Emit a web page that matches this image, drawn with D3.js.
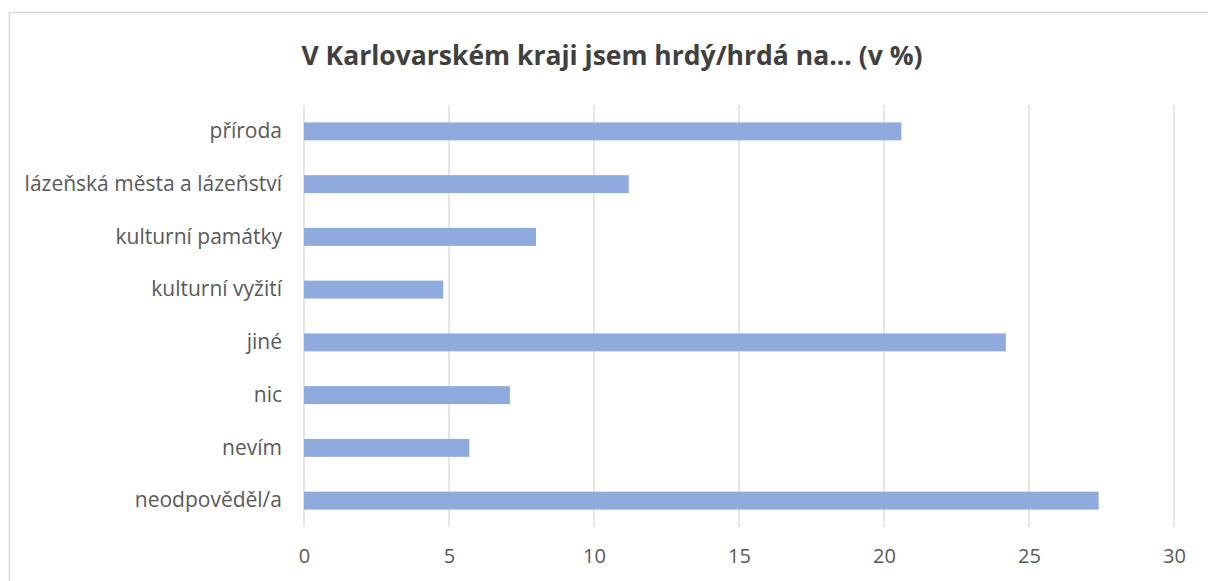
<!DOCTYPE html>
<html lang="cs">
<meta charset="utf-8">
<style>
body { margin: 0; background: #fff; }
text { font-family: "Open Sans", sans-serif; }
</style>
<body>
<script src="https://d3js.org/d3.v7.min.js"></script>
<div id="chart"></div>
<script>
// data
var categories = ["příroda", "lázeňská města a lázeňství", "kulturní památky ", "kulturní vyžití",
                  "jiné", "nic", "nevím", "neodpověděl/a"];
var values = [20.6, 11.2, 8.0, 4.8, 24.2, 7.1, 5.7, 27.4];
var xTicks = [0, 5, 10, 15, 20, 25, 30];
var title = "V Karlovarském kraji jsem hrdý/hrdá na... (v %)";

var width = 1208, height = 581;
var margin = {top: 105, right: 34, bottom: 54, left: 304};

var svg = d3.select("#chart").append("svg")
    .attr("width", width)
    .attr("height", height);

// chart frame
svg.append("rect")
    .attr("x", 9.5).attr("y", 12.5)
    .attr("width", width).attr("height", height)
    .attr("fill", "none")
    .attr("stroke", "#d9d9d9")
    .attr("stroke-width", 1.5);

var x = d3.scaleLinear()
    .domain([0, 30])
    .range([margin.left, width - margin.right]);

var y = d3.scaleBand()
    .domain(categories)
    .range([margin.top, height - margin.bottom])
    .paddingInner(0.66)
    .paddingOuter(0.33);

// gridlines
svg.append("g")
    .selectAll("line")
    .data(xTicks)
  .enter().append("line")
    .attr("x1", function(d) { return x(d); })
    .attr("x2", function(d) { return x(d); })
    .attr("y1", margin.top)
    .attr("y2", height - margin.bottom)
    .attr("stroke", "#d9d9d9")
    .attr("stroke-width", 1.3);

// bars
svg.append("g")
    .selectAll("rect")
    .data(values)
  .enter().append("rect")
    .attr("x", x(0))
    .attr("y", function(d, i) { return y(categories[i]); })
    .attr("width", function(d) { return x(d) - x(0); })
    .attr("height", y.bandwidth())
    .attr("fill", "#8faadc");

// x axis labels
var xAxis = svg.append("g")
    .attr("transform", "translate(0," + (height - margin.bottom + 22) + ")")
    .call(d3.axisBottom(x).tickValues(xTicks).tickSize(0).tickPadding(0));
xAxis.select(".domain").remove();
xAxis.selectAll("text")
    .attr("dy", "0.71em")
    .style("font-size", "20px")
    .style("font-family", "'Open Sans', sans-serif")
    .attr("fill", "#595959");

// y axis labels
var yAxis = svg.append("g")
    .attr("transform", "translate(" + (margin.left - 22) + ",0)")
    .call(d3.axisLeft(y).tickSize(0).tickPadding(0));
yAxis.select(".domain").remove();
yAxis.selectAll("text")
    .style("font-size", "21px")
    .style("font-family", "'Open Sans', sans-serif")
    .attr("fill", "#595959");

svg.append("text")
    .attr("x", 612)
    .attr("y", 65)
    .attr("text-anchor", "middle")
    .style("font-size", "26.5px")
    .style("font-weight", "bold")
    .attr("fill", "#404040")
    .text(title);
</script>
</body>
</html>
